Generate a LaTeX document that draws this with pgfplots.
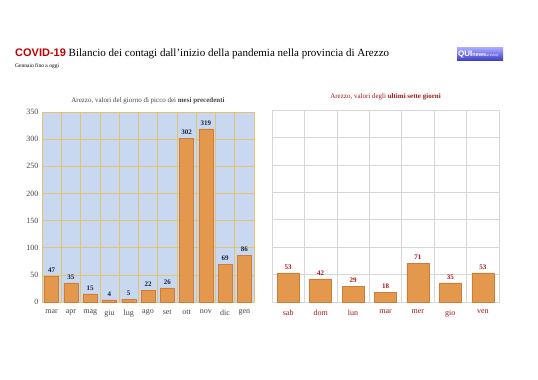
\documentclass[border=0pt]{standalone}
\usepackage{pgfplots}
\pgfplotsset{compat=1.18}
\usepackage{fontspec}
\setmainfont{Liberation Serif}
\newfontfamily\sansb{Liberation Sans}
\definecolor{barfill}{RGB}{227,152,78}
\definecolor{bardraw}{RGB}{205,125,55}
\definecolor{bgblue}{RGB}{200,216,240}
\definecolor{gold}{RGB}{228,196,110}
\definecolor{lgray}{RGB}{215,215,215}
\definecolor{darkred}{RGB}{165,20,25}
\definecolor{covred}{RGB}{192,0,0}
\definecolor{navy}{RGB}{25,35,60}
\definecolor{tickgray}{RGB}{70,70,70}
\begin{document}
\begin{tikzpicture}
\path[fill=white] (0pt,0pt) rectangle (538pt,380pt);
% title
\node[anchor=base west, inner sep=0] at (15pt,323pt) {\fontsize{11}{13}\selectfont{\sansb\bfseries\color{covred}COVID-19} Bilancio dei contagi dall'inizio della pandemia nella provincia di Arezzo};
\node[anchor=base west, inner sep=0] at (15pt,312pt) {\fontsize{5.5}{6}\selectfont Gennaio fino a oggi};
% logo
\shade[top color=blue!35!white, bottom color=blue!55!gray] (457pt,319pt) rectangle (503pt,332pt);
\node[anchor=west, inner sep=0, text=white] at (458pt,325.5pt) {\sansb\bfseries\fontsize{8}{8}\selectfont QUI\fontsize{5.5}{5.5}\selectfont news\textcolor{white!80!blue}{\fontsize{4}{4}\selectfont arezzo}};
% left chart
\begin{axis}[
  at={(42pt,78pt)}, anchor=south west,
  scale only axis, width=212pt, height=190pt,
  xmin=-0.5, xmax=10.5, ymin=0, ymax=350,
  axis background/.style={fill=bgblue},
  axis line style={draw=gold},
  xtick={0,...,10},
  xticklabels={mar,apr,mag,giu,lug,ago,set,ott,nov,dic,gen},
  minor xtick={-0.5,0.5,...,10.5},
  ytick={0,50,...,350},
  ymajorgrids, xminorgrids,
  major grid style={draw=gold, line width=0.6pt},
  minor grid style={draw=gold, line width=0.6pt},
  tick style={draw=none},
  ticklabel style={font=\fontsize{8}{9}\selectfont, text=tickgray},
  /pgf/number format/assume math mode=true,
  ybar, bar width=14pt,
  nodes near coords,
  nodes near coords style={font=\bfseries\fontsize{7}{8}\selectfont, text=navy},
  title={Arezzo, valori del giorno di picco dei \textbf{mesi precedenti}},
  title style={font=\fontsize{7}{8}\selectfont, text=tickgray, yshift=-2pt},
  clip=false,
]
\addplot[fill=barfill, draw=bardraw] coordinates {(0,47) (1,35) (2,15) (3,4) (4,5) (5,22) (6,26) (7,302) (8,319) (9,69) (10,86)};
\end{axis}
% right chart
\begin{axis}[
  at={(272pt,78pt)}, anchor=south west,
  scale only axis, width=227pt, height=192pt,
  xmin=-0.5, xmax=6.5, ymin=0, ymax=350,
  axis line style={draw=lgray},
  xtick={0,...,6},
  xticklabels={sab,dom,lun,mar,mer,gio,ven},
  minor xtick={-0.5,0.5,...,6.5},
  ytick={0,50,...,350}, yticklabels={},
  ymajorgrids, xminorgrids,
  major grid style={draw=lgray, line width=0.6pt},
  minor grid style={draw=lgray, line width=0.6pt},
  tick style={draw=none},
  ticklabel style={font=\fontsize{8}{9}\selectfont, text=darkred},
  /pgf/number format/assume math mode=true,
  ybar, bar width=22pt,
  nodes near coords,
  nodes near coords style={font=\bfseries\fontsize{7}{8}\selectfont, text=darkred},
  title={Arezzo, valori degli \textbf{ultimi sette giorni}},
  title style={font=\fontsize{7}{8}\selectfont, text=darkred},
  clip=false,
]
\addplot[fill=barfill, draw=bardraw] coordinates {(0,53) (1,42) (2,29) (3,18) (4,71) (5,35) (6,53)};
\end{axis}
\end{tikzpicture}
\end{document}
